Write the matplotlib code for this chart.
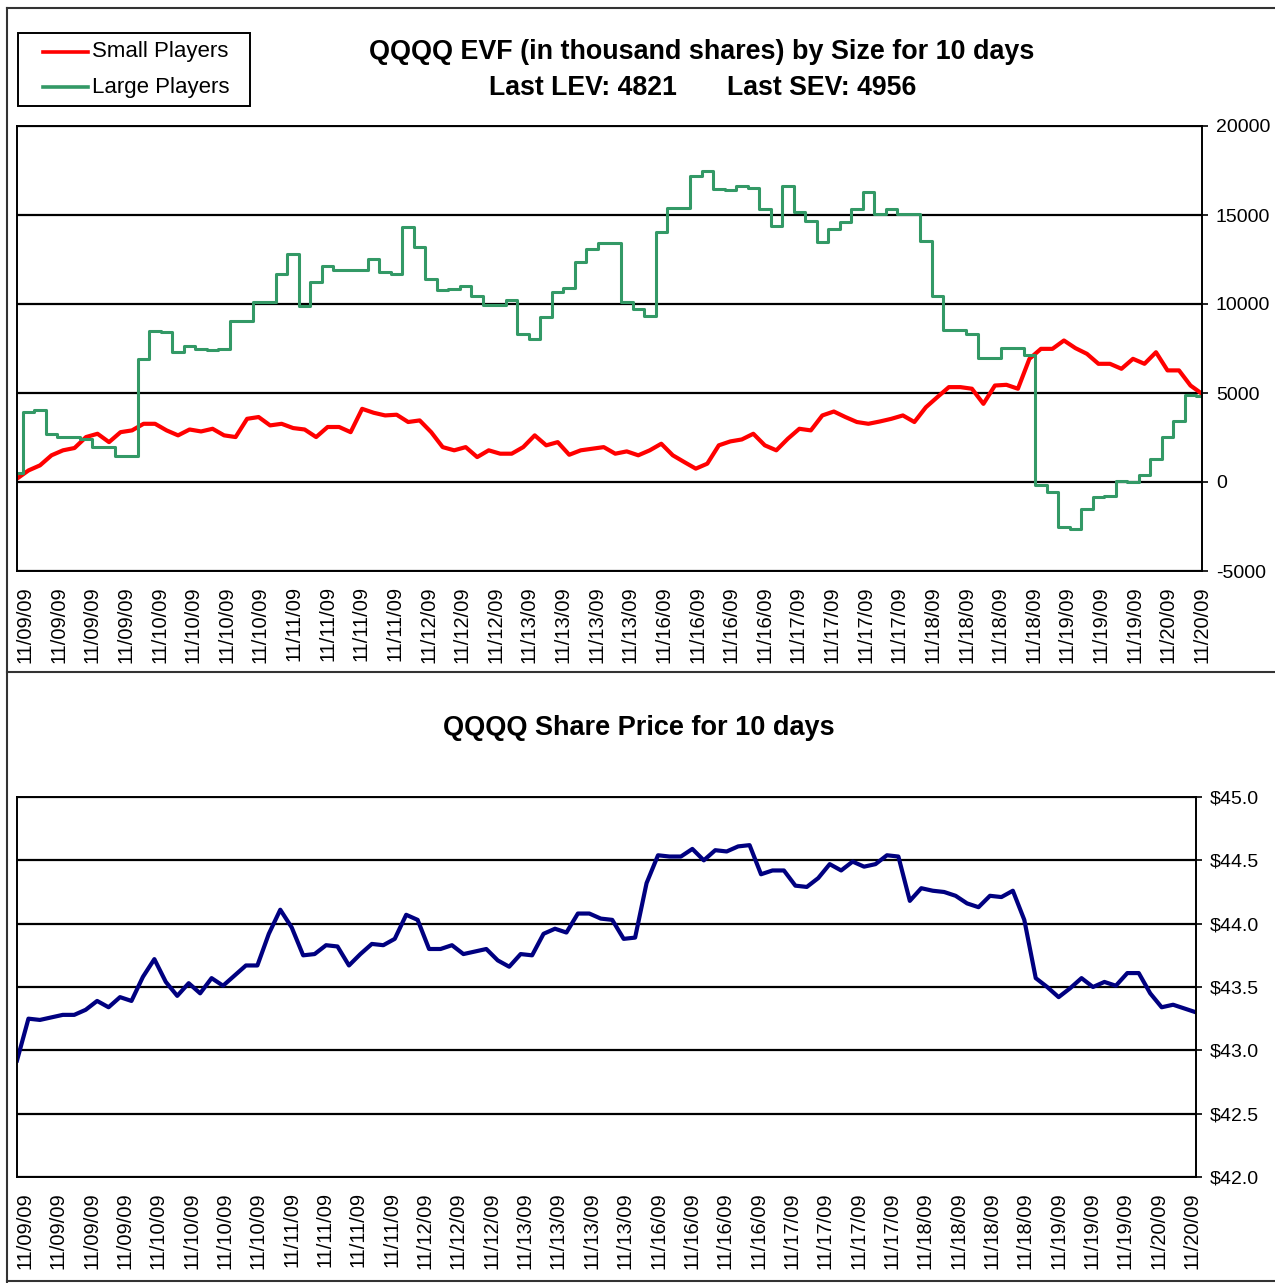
import matplotlib.pyplot as plt
import numpy as np
from matplotlib.lines import Line2D
from matplotlib.patches import Rectangle

plt.rcParams['font.family'] = ['Liberation Sans', 'DejaVu Sans']
plt.rcParams['axes.unicode_minus'] = False

# EVF in thousand shares at even steps along the 10 days
small_players = [190, 650, 935, 1500, 1780, 1910, 2525, 2710, 2240, 2800,
                 2900, 3270, 3270, 2900, 2620, 2950, 2840, 2990, 2620, 2525,
                 3550, 3650, 3180, 3270, 3030, 2950, 2525, 3090, 3090, 2800,
                 4110, 3890, 3740, 3780, 3370, 3460, 2800, 1960, 1780, 1960,
                 1400, 1780, 1590, 1590, 1960, 2620, 2060, 2240, 1530, 1780,
                 1870, 1960, 1590,
                 1720, 1500, 1780, 2150, 1500, 1120, 750, 1030, 2060, 2280,
                 2390, 2710, 2060, 1780, 2430, 2990, 2900, 3740, 3960, 3650,
                 3370, 3270, 3400, 3550, 3740, 3370, 4200, 4770, 5330, 5330,
                 5240, 4390, 5420, 5460, 5240, 6920, 7480, 7480, 7950, 7520,
                 7200, 6640, 6640, 6360, 6920, 6640, 7290, 6270, 6270, 5420,
                 4956]
large_players = [500, 3930, 4020, 2700, 2525, 2525, 2430, 1960, 1960, 1440,
                 1440, 6920, 8510, 8415, 7290, 7630, 7480, 7440, 7480, 9070,
                 9070, 10135, 10100, 11690, 12810, 9910, 11260, 12155, 11910, 11910,
                 11930, 12530, 11780, 11690, 14300, 13180, 11400, 10800, 10850, 11030,
                 10440, 9950, 9950, 10250, 8320, 8040, 9260, 10660, 10880, 12340,
                 13090, 13430, 13430,
                 10100, 9720, 9350, 14020, 15370, 15370, 17200, 17490, 16460, 16420,
                 16640, 16500, 15330, 14400, 16640, 15150, 14680, 13500, 14210, 14590,
                 15330, 16270, 15050, 15330, 15050, 15050, 13560, 10470, 8560, 8560,
                 8320, 6960, 6960, 7520, 7520, 7110, -190, -560, -2520, -2620,
                 -1530, -840, -790, 40, 0, 375, 1310, 2525, 3400, 4860,
                 4821]
share_price = [42.92, 43.25, 43.24, 43.26, 43.28, 43.28, 43.32, 43.39, 43.34, 43.42,
               43.39, 43.58, 43.72, 43.54, 43.43, 43.53, 43.45, 43.57, 43.51, 43.59,
               43.67, 43.67, 43.92, 44.11, 43.97, 43.75, 43.76, 43.83, 43.82, 43.67,
               43.76, 43.84, 43.83, 43.88, 44.07, 44.03, 43.80, 43.80, 43.83, 43.76,
               43.78, 43.80, 43.71, 43.66, 43.76, 43.75, 43.92, 43.96, 43.93, 44.08,
               44.08, 44.04, 44.03,
               43.88, 43.89, 44.32, 44.54, 44.53, 44.53, 44.59, 44.50, 44.58, 44.57,
               44.61, 44.62, 44.39, 44.42, 44.42, 44.30, 44.29, 44.36, 44.47, 44.42,
               44.49, 44.45, 44.47, 44.54, 44.53, 44.18, 44.28, 44.26, 44.25, 44.22,
               44.16, 44.13, 44.22, 44.21, 44.26, 44.03, 43.57, 43.50, 43.42, 43.49,
               43.57, 43.50, 43.54, 43.51, 43.61, 43.61, 43.45, 43.34, 43.36, 43.33,
               43.30]

date_labels = (["11/09/09"] * 4 + ["11/10/09"] * 4 + ["11/11/09"] * 4 +
               ["11/12/09"] * 3 + ["11/13/09"] * 4 + ["11/16/09"] * 4 +
               ["11/17/09"] * 4 + ["11/18/09"] * 4 + ["11/19/09"] * 3 +
               ["11/20/09"] * 2)
evf_ticks = [-5000, 0, 5000, 10000, 15000, 20000]
price_ticks = [42.0, 42.5, 43.0, 43.5, 44.0, 44.5, 45.0]

W, H = 1275, 1283
fig = plt.figure(figsize=(W / 100, H / 100), dpi=100)


def px_box(x0, y0, x1, y1):
    return [x0 / W, 1 - y1 / H, (x1 - x0) / W, (y1 - y0) / H]


def style_axis(ax, ticks, labels, first, last):
    n = len(small_players)
    ax.set_xlim(0, n - 1)
    ax.set_xticks(np.linspace(first, last, len(date_labels)) * (n - 1))
    ax.set_xticklabels(date_labels, rotation=90, fontsize=14.5)
    ax.tick_params(axis='x', length=0, pad=11)
    ax.set_ylim(ticks[0], ticks[-1])
    ax.set_yticks(ticks)
    ax.set_yticklabels(labels, fontsize=14)
    ax.yaxis.tick_right()
    ax.tick_params(axis='y', direction='out', length=4, width=1.2, pad=6)
    ax.yaxis.grid(True, color='black', lw=1.6)
    ax.set_axisbelow(True)
    for s in ax.spines.values():
        s.set_color('black')
        s.set_linewidth(1.4)


x = np.arange(len(small_players))

ax1 = fig.add_axes(px_box(17, 126, 1202, 571))
ax1.plot(x, small_players, color='#ff0000', lw=3.0)
ax1.plot(x, large_players, color='#339966', lw=2.2, drawstyle='steps-mid')
style_axis(ax1, evf_ticks, [str(t) for t in evf_ticks], 8 / 1185, 1.0)

ax2 = fig.add_axes(px_box(17, 797, 1196, 1177))
ax2.plot(x, share_price, color='#000080', lw=3.0)
style_axis(ax2, price_ticks, [f"${t:.1f}" for t in price_ticks], 8 / 1179, 1175 / 1179)

# legend box drawn in pixel positions like the Excel one
fig.add_artist(Rectangle((18 / W, 1 - 106 / H), 232 / W, 73 / H, fill=False,
                         edgecolor='black', lw=1.4, transform=fig.transFigure))
for y, color, name in [(52, '#ff0000', 'Small Players'), (87, '#339966', 'Large Players')]:
    fig.add_artist(Line2D([43 / W, 88 / W], [1 - y / H, 1 - y / H], color=color,
                          lw=2.6, transform=fig.transFigure))
    fig.text(92 / W, 1 - y / H, name, ha='left', va='center', fontsize=16)

fig.text(702 / W, 1 - 52 / H, "QQQQ EVF (in thousand shares) by Size for 10 days",
         ha='center', va='center', fontsize=19.4, weight='bold')
fig.text(583 / W, 1 - 88 / H, f"Last LEV: {large_players[-1]}",
         ha='center', va='center', fontsize=19.2, weight='bold')
fig.text(822 / W, 1 - 88 / H, f"Last SEV: {small_players[-1]}",
         ha='center', va='center', fontsize=19.2, weight='bold')
fig.text(639 / W, 1 - 728 / H, "QQQQ Share Price for 10 days",
         ha='center', va='center', fontsize=19.5, weight='bold')

# chart frames
for xs, ys in [([7, 7], [8, 1282]), ([7, W], [8, 8]), ([7, W], [672, 672]),
               ([7, W], [1281, 1281])]:
    fig.add_artist(Line2D([v / W for v in xs], [1 - v / H for v in ys],
                          color='#333333', lw=1.5, transform=fig.transFigure))

fig.savefig("out.png", dpi=100)
